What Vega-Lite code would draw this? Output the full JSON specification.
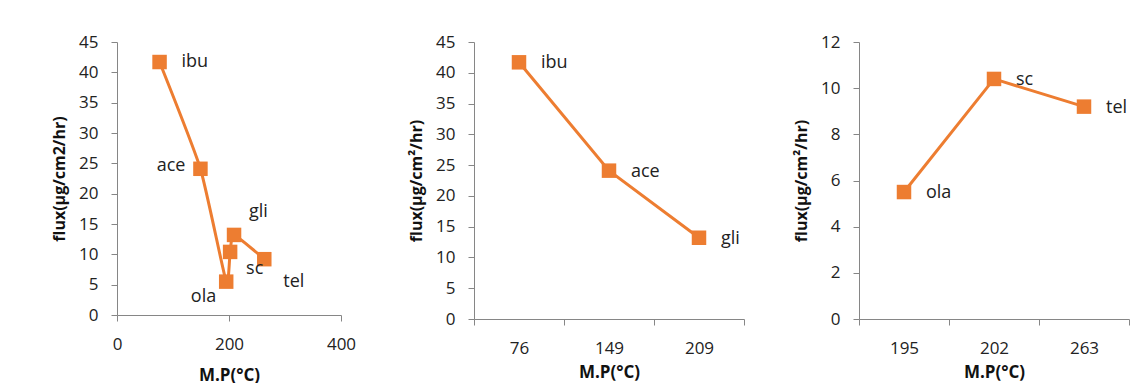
{
  "$schema": "https://vega.github.io/schema/vega-lite/v6.json",
  "padding": {"left": 51, "top": 33, "right": 5, "bottom": 0},
  "spacing": 52,
  "datasets": {
    "drugs": [
      {"name": "ibu", "mp": 76, "flux": 41.7},
      {"name": "ace", "mp": 149, "flux": 24.1},
      {"name": "ola", "mp": 195, "flux": 5.5},
      {"name": "sc", "mp": 202, "flux": 10.4},
      {"name": "gli", "mp": 209, "flux": 13.2},
      {"name": "tel", "mp": 263, "flux": 9.2}
    ]
  },
  "config": {
    "view": {"stroke": null},
    "axis": {
      "grid": false,
      "domainColor": "#868686",
      "tickColor": "#868686",
      "tickSize": 6,
      "labelFont": "Open Sans",
      "labelFontSize": 17,
      "labelColor": "#222222",
      "labelFlush": false,
      "labelOverlap": false,
      "titleFont": "Open Sans",
      "titleFontSize": 16,
      "titleFontWeight": "bold",
      "titleColor": "#111111"
    },
    "axisY": {"labelPadding": 13, "titlePadding": 11},
    "axisX": {"labelPadding": 15},
    "text": {"font": "Open Sans", "fontSize": 18, "color": "#222222"}
  },
  "hconcat": [
    {
      "width": 224,
      "height": 273,
      "data": {"name": "drugs"},
      "encoding": {
        "x": {"field": "mp", "type": "quantitative", "scale": {"domain": [0, 400]},
              "axis": {"values": [0, 200, 400], "title": "M.P(°C)", "titlePadding": 15, "titleFontSize": 17}},
        "y": {"field": "flux", "type": "quantitative", "scale": {"domain": [0, 45]},
              "axis": {"values": [0, 5, 10, 15, 20, 25, 30, 35, 40, 45], "title": "flux(µg/cm2/hr)"}}
      },
      "layer": [
        {"mark": {"type": "line", "color": "#ED7D31", "strokeWidth": 3, "interpolate": "cardinal", "tension": 0.5}},
        {"mark": {"type": "point", "shape": "square", "filled": true, "size": 210, "color": "#ED7D31", "opacity": 1}},
        {"transform": [{"filter": "datum.name === 'ibu'"}], "mark": {"type": "text", "align": "left", "dx": 22, "dy": 0}, "encoding": {"text": {"field": "name"}}},
        {"transform": [{"filter": "datum.name === 'ace'"}], "mark": {"type": "text", "align": "right", "dx": -15, "dy": -3}, "encoding": {"text": {"field": "name"}}},
        {"transform": [{"filter": "datum.name === 'ola'"}], "mark": {"type": "text", "align": "right", "dx": -10, "dy": 15}, "encoding": {"text": {"field": "name"}}},
        {"transform": [{"filter": "datum.name === 'sc'"}], "mark": {"type": "text", "align": "left", "dx": 16, "dy": 17}, "encoding": {"text": {"field": "name"}}},
        {"transform": [{"filter": "datum.name === 'gli'"}], "mark": {"type": "text", "align": "left", "dx": 15, "dy": -23}, "encoding": {"text": {"field": "name"}}},
        {"transform": [{"filter": "datum.name === 'tel'"}], "mark": {"type": "text", "align": "left", "dx": 19, "dy": 23}, "encoding": {"text": {"field": "name"}}}
      ]
    },
    {
      "spacing": 48,
      "hconcat": [
        {
          "width": 270,
          "height": 277,
          "data": {"name": "drugs"},
          "transform": [{"filter": {"field": "name", "oneOf": ["ibu", "ace", "gli"]}}],
          "encoding": {
            "x": {"field": "mp", "type": "ordinal", "scale": {"type": "band", "paddingInner": 0, "paddingOuter": 0},
                  "axis": {"labelAngle": 0, "tickBand": "extent", "title": "M.P(°C)", "titlePadding": 8, "titleFontSize": 17}},
            "y": {"field": "flux", "type": "quantitative", "scale": {"domain": [0, 45]},
                  "axis": {"values": [0, 5, 10, 15, 20, 25, 30, 35, 40, 45], "title": "flux(µg/cm²/hr)"}}
          },
          "layer": [
            {"mark": {"type": "line", "color": "#ED7D31", "strokeWidth": 3}},
            {"mark": {"type": "point", "shape": "square", "filled": true, "size": 210, "color": "#ED7D31", "opacity": 1}},
            {"mark": {"type": "text", "align": "left", "dx": 22, "dy": 1}, "encoding": {"text": {"field": "name"}}}
          ]
        },
        {
          "width": 270,
          "height": 277,
          "data": {"name": "drugs"},
          "transform": [{"filter": {"field": "name", "oneOf": ["ola", "sc", "tel"]}}],
          "encoding": {
            "x": {"field": "mp", "type": "ordinal", "scale": {"type": "band", "paddingInner": 0, "paddingOuter": 0},
                  "axis": {"labelAngle": 0, "tickBand": "extent", "title": "M.P(°C)", "titlePadding": 8, "titleFontSize": 17}},
            "y": {"field": "flux", "type": "quantitative", "scale": {"domain": [0, 12]},
                  "axis": {"values": [0, 2, 4, 6, 8, 10, 12], "title": "flux(µg/cm²/hr)"}}
          },
          "layer": [
            {"mark": {"type": "line", "color": "#ED7D31", "strokeWidth": 3}},
            {"mark": {"type": "point", "shape": "square", "filled": true, "size": 210, "color": "#ED7D31", "opacity": 1}},
            {"mark": {"type": "text", "align": "left", "dx": 22, "dy": 1}, "encoding": {"text": {"field": "name"}}}
          ]
        }
      ]
    }
  ]
}
